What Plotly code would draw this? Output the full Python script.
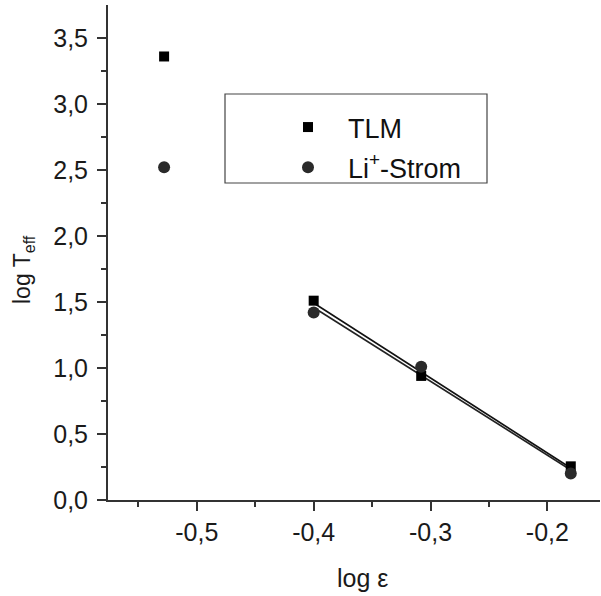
import numpy as np
import plotly.graph_objects as go

log_eps = [-0.528, -0.400, -0.308, -0.180]
tlm = [3.36, 1.51, 0.94, 0.255]
li_strom = [2.52, 1.42, 1.01, 0.20]
fit_idx = [1, 2, 3]

x_tickvals = [-0.5, -0.4, -0.3, -0.2]
x_ticktext = ["-0,5", "-0,4", "-0,3", "-0,2"]
x_minor = [-0.55, -0.45, -0.35, -0.25]
y_tickvals = [0, 0.5, 1.0, 1.5, 2.0, 2.5, 3.0, 3.5]
y_minor = [0.25, 0.75, 1.25, 1.75, 2.25, 2.75, 3.25]

FONT = "Liberation Sans"
TXT = "#1a1a1a"

L, T, W, H = 108, 5, 492, 495  # plot area in px


def px(x):
    return (x - L) / W


def py(y):
    return (T + H - y) / H


fig = go.Figure()

# linear fits through the last three points
for ys, col in [(tlm, "#111111"), (li_strom, "#222222")]:
    xs = np.array([log_eps[i] for i in fit_idx])
    yy = np.array([ys[i] for i in fit_idx])
    k, d = np.polyfit(xs, yy, 1)
    xf = np.array([xs.min(), xs.max()])
    fig.add_trace(go.Scatter(x=xf, y=k * xf + d, mode="lines",
                             line=dict(color=col, width=1.6),
                             showlegend=False, hoverinfo="skip"))

fig.add_trace(go.Scatter(x=log_eps, y=tlm, mode="markers", name="TLM",
                         legendgroup="a",
                         marker=dict(symbol="square", size=10, color="#000000")))
fig.add_trace(go.Scatter(x=log_eps, y=li_strom, mode="markers",
                         name="Li<sup>+</sup>-Strom", legendgroup="b",
                         marker=dict(symbol="circle", size=12, color="#2a2a2a")))

axis_common = dict(
    showgrid=False, zeroline=False, showline=True, linecolor="#333333",
    linewidth=2, ticks="outside", ticklen=9, tickwidth=2, tickcolor="#333333",
    tickfont=dict(family=FONT, size=25, color=TXT),
    mirror=False,
)

fig.update_xaxes(range=[-0.576, -0.155], tickvals=x_tickvals, ticktext=x_ticktext,
                 ticklabelstandoff=0,
                 minor=dict(tickvals=x_minor, ticks="outside",
                            ticklen=5, tickwidth=2, tickcolor="#333333"),
                 **axis_common)
fig.update_yaxes(range=[0, 3.75], tickvals=y_tickvals,
                 tickformat=".1f", ticklabelstandoff=4,
                 minor=dict(tickvals=y_minor,
                            ticks="outside", ticklen=5, tickwidth=2, tickcolor="#333333"),
                 **axis_common)

fig.add_annotation(text="log ε", xref="paper", yref="paper",
                   x=px(362), y=py(578), xanchor="center", yanchor="middle",
                   showarrow=False, font=dict(family=FONT, size=25, color=TXT))
fig.add_annotation(text="log T<sub>eff</sub>", xref="paper", yref="paper",
                   x=px(23), y=py(270), xanchor="center", yanchor="middle",
                   textangle=-90, showarrow=False,
                   font=dict(family=FONT, size=23, color=TXT))

fig.update_layout(
    width=601, height=596,
    margin=dict(l=L, r=601 - L - W, t=T, b=596 - T - H),
    plot_bgcolor="white", paper_bgcolor="white",
    separators=",.",
    legend=dict(x=px(268), y=py(147.5),
                xanchor="left", yanchor="middle",
                bgcolor="rgba(0,0,0,0)", borderwidth=0,
                font=dict(family=FONT, size=27, color="#111111"),
                itemwidth=70, tracegroupgap=2),
    shapes=[dict(type="rect", xref="paper", yref="paper",
                 x0=px(225), x1=px(487), y0=py(183), y1=py(94),
                 line=dict(color="#444444", width=1.2))],
)

fig.write_html("out.html")
